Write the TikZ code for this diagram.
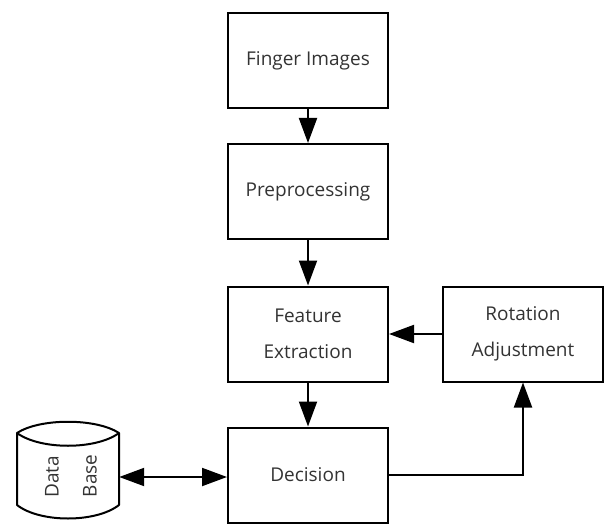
\documentclass[tikz,border=0pt]{standalone}
\usepackage{fontspec}
\setmainfont{Open Sans}
\usetikzlibrary{arrows.meta}
\begin{document}
\begin{tikzpicture}[x=1pt,y=-1pt,
  every node/.style={font=\fontsize{19}{36}\selectfont, text=black!80},
  procbox/.style={draw=black, line width=2pt, minimum width=160pt, minimum height=95pt,
    inner sep=0pt, align=center},
  flow/.style={line width=2pt, -{Triangle[length=25pt,width=18pt]}},
  biflow/.style={line width=2pt, {Triangle[length=25pt,width=18pt]}-{Triangle[length=25pt,width=18pt]}},
  dbline/.style={line width=2pt, line join=round}]
\useasboundingbox (0,0) rectangle (605,524);

% process boxes
\node[procbox] (fi)  at (308,60.5) {Finger Images};
\node[procbox] (pre) at (308,191.5) {Preprocessing};
\node[procbox] (fe)  at (308,334) {Feature\\Extraction};
\node[procbox] (dec) at (308,475) {Decision};
\node[procbox] (rot) at (523,334) {Rotation\\Adjustment};

% database cylinder
\node[inner sep=0pt, minimum width=102pt, minimum height=86pt] (db) at (68,477) {};
\draw[dbline] (17,433) .. controls (40,418) and (96,418) .. (119,433)
              .. controls (96,450) and (40,450) .. (17,433) -- (17,505)
              .. controls (40,523) and (96,523) .. (119,505) -- (119,433);
\node[rotate=90] (dbdata) at (52,477) {Data};
\node[rotate=90] (dbbase) at (90,476) {Base};

% connectors
\draw[flow] (fi) -- (pre);
\draw[flow] (pre) -- (fe);
\draw[flow] (fe) -- (dec);
\draw[flow] (rot) -- (fe);
\draw[flow] (dec.east) -- (dec.east -| rot.south) -- (rot.south);
\draw[biflow] (db.east) -- (db.east -| dec.west);
\end{tikzpicture}
\end{document}
